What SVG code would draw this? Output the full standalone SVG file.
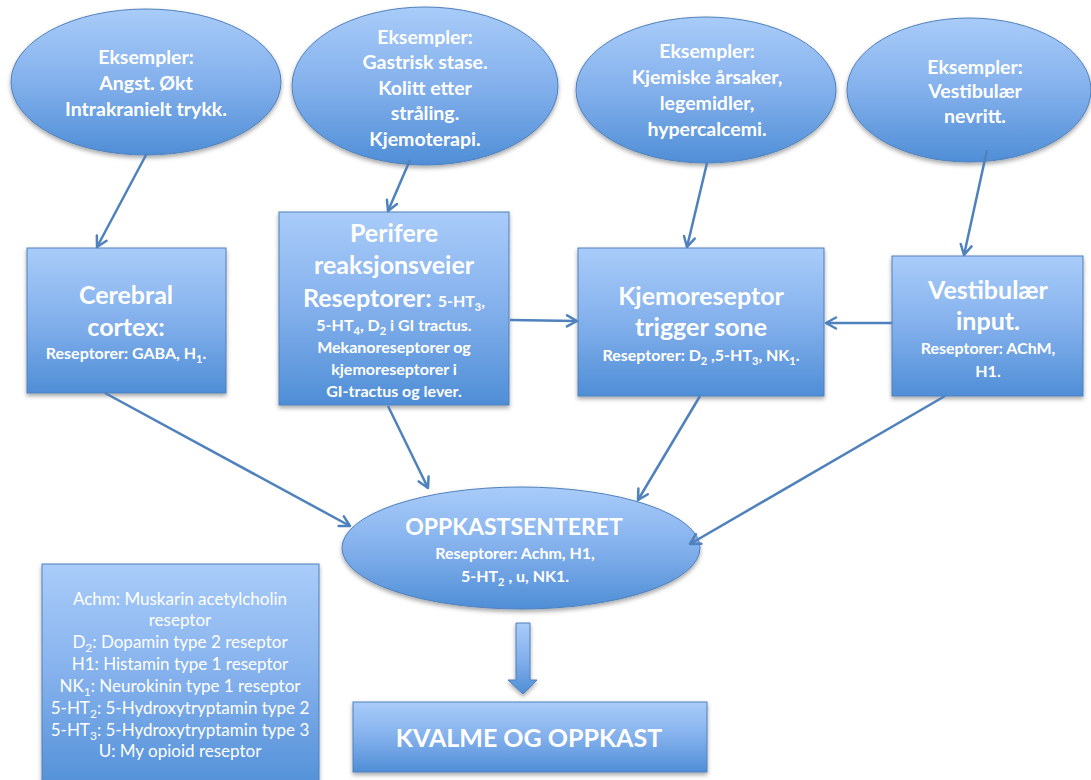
<svg xmlns="http://www.w3.org/2000/svg" width="1091" height="780" viewBox="0 0 1091 780">
<defs>
<linearGradient id="g" x1="0" y1="0" x2="0" y2="1">
<stop offset="0" stop-color="#a9ccf9"/>
<stop offset="0.5" stop-color="#83b0ec"/>
<stop offset="1" stop-color="#4f8ed6"/>
</linearGradient>
<filter id="sh" x="-10%" y="-10%" width="120%" height="130%">
<feDropShadow dx="0" dy="2.5" stdDeviation="2" flood-color="#000" flood-opacity="0.35"/>
</filter>
<marker id="ah" viewBox="0 0 14 14" refX="12" refY="7" markerWidth="14" markerHeight="14" orient="auto" markerUnits="userSpaceOnUse">
<path d="M2,1.5 L12,7 L2,12.5" fill="none" stroke="#4f81bd" stroke-width="2.5" stroke-linecap="round" stroke-linejoin="round"/>
</marker>
</defs>
<style>
.sh{fill:url(#g);stroke:#4f81bd;stroke-width:1;filter:url(#sh)}
.t{font-family:Lato,"Liberation Sans",sans-serif;font-weight:bold;fill:#fff;text-anchor:middle}
.e{font-size:19.5px}
.h{font-size:25px}
.s{font-size:16px}
.lg{font-family:Lato,"Liberation Sans",sans-serif;font-size:17px;fill:#fff;text-anchor:middle}
.c{fill:none;stroke:#4f81bd;stroke-width:2.5;marker-end:url(#ah)}
</style>
<rect width="1091" height="780" fill="#fff"/>

<g id="ex1">
<ellipse class="sh" cx="146" cy="82" rx="135" ry="73"/>
<text class="t e" x="146" y="64">Eksempler:</text>
<text class="t e" x="146" y="90">Angst. Økt</text>
<text class="t e" x="146" y="116">Intrakranielt trykk.</text>
</g>

<g id="ex2">
<ellipse class="sh" cx="425" cy="86" rx="133" ry="79"/>
<text class="t e" x="425" y="44">Eksempler:</text>
<text class="t e" x="425" y="69">Gastrisk stase.</text>
<text class="t e" x="425" y="95">Kolitt etter</text>
<text class="t e" x="425" y="120">stråling.</text>
<text class="t e" x="425" y="146">Kjemoterapi.</text>
</g>

<g id="ex3">
<ellipse class="sh" cx="706" cy="90" rx="130" ry="73"/>
<text class="t e" x="707" y="58">Eksempler:</text>
<text class="t e" x="707" y="84">Kjemiske årsaker,</text>
<text class="t e" x="707" y="110">legemidler,</text>
<text class="t e" x="707" y="136">hypercalcemi.</text>
</g>

<g id="ex4">
<ellipse class="sh" cx="969" cy="90" rx="122" ry="72"/>
<text class="t e" x="975" y="74">Eksempler:</text>
<text class="t e" x="975" y="98">Vestibulær</text>
<text class="t e" x="975" y="123">nevritt.</text>
</g>

<g id="cerebral">
<rect class="sh" x="27" y="248" width="199" height="145"/>
<text class="t h" x="126" y="304">Cerebral</text>
<text class="t h" x="126" y="336">cortex:</text>
<text class="t s" x="126" y="359">Reseptorer: GABA, H<tspan font-size="11" dy="4">1</tspan><tspan dy="-4">.</tspan></text>
</g>

<g id="perifere">
<rect class="sh" x="279" y="212" width="230" height="193"/>
<text class="t h" x="394" y="242">Perifere</text>
<text class="t h" x="394" y="274">reaksjonsveier</text>
<text class="t" x="394" y="307"><tspan font-size="25">Reseptorer: </tspan><tspan font-size="16">5-HT</tspan><tspan font-size="11" dy="4">3</tspan><tspan font-size="16" dy="-4">,</tspan></text>
<text class="t s" x="394" y="331">5-HT<tspan font-size="11" dy="4">4</tspan><tspan dy="-4">, D</tspan><tspan font-size="11" dy="4">2</tspan><tspan dy="-4"> i GI tractus.</tspan></text>
<text class="t s" x="394" y="353">Mekanoreseptorer og</text>
<text class="t s" x="394" y="375">kjemoreseptorer i</text>
<text class="t s" x="394" y="397">GI-tractus og lever.</text>
</g>

<g id="kjemo">
<rect class="sh" x="578" y="248" width="246" height="148"/>
<text class="t h" x="701" y="305">Kjemoreseptor</text>
<text class="t h" x="701" y="336">trigger sone</text>
<text class="t s" x="701" y="361">Reseptorer: D<tspan font-size="11" dy="4">2</tspan><tspan dy="-4"> ,5-HT</tspan><tspan font-size="11" dy="4">3</tspan><tspan dy="-4">, NK</tspan><tspan font-size="11" dy="4">1</tspan><tspan dy="-4">.</tspan></text>
</g>

<g id="vestibular">
<rect class="sh" x="892" y="256" width="191" height="140"/>
<text class="t h" x="988" y="299">Vestibulær</text>
<text class="t h" x="988" y="330">input.</text>
<text class="t s" x="988" y="354">Reseptorer: AChM,</text>
<text class="t s" x="988" y="377">H1.</text>
</g>

<g id="senter">
<ellipse class="sh" cx="521" cy="548" rx="179" ry="61"/>
<text class="t" x="514" y="535" font-size="23">OPPKASTSENTERET</text>
<text class="t s" x="515" y="559">Reseptorer: Achm, H1,</text>
<text class="t s" x="515" y="582">5-HT<tspan font-size="11" dy="4">2</tspan><tspan dy="-4"> , u, NK1.</tspan></text>
</g>

<g id="legend">
<rect class="sh" x="42" y="564" width="277" height="230"/>
<text class="lg" x="180" y="605">Achm: Muskarin acetylcholin</text>
<text class="lg" x="180" y="626">reseptor</text>
<text class="lg" x="180" y="648">D<tspan font-size="12" dy="4">2</tspan><tspan dy="-4">: Dopamin type 2 reseptor</tspan></text>
<text class="lg" x="180" y="670">H1: Histamin type 1 reseptor</text>
<text class="lg" x="180" y="692">NK<tspan font-size="12" dy="4">1</tspan><tspan dy="-4">: Neurokinin type 1 reseptor</tspan></text>
<text class="lg" x="180" y="714">5-HT<tspan font-size="12" dy="4">2</tspan><tspan dy="-4">: 5-Hydroxytryptamin type 2</tspan></text>
<text class="lg" x="180" y="736">5-HT<tspan font-size="12" dy="4">3</tspan><tspan dy="-4">: 5-Hydroxytryptamin type 3</tspan></text>
<text class="lg" x="180" y="757">U: My opioid reseptor</text>
</g>

<g id="blockarrow">
<path class="sh" d="M516,623 L530,623 L530,680 L537,680 L523,694 L508,680 L516,680 Z"/>
</g>

<g id="kvalme">
<rect class="sh" x="353" y="702" width="354" height="70"/>
<text class="t" x="529" y="747" font-size="25">KVALME OG OPPKAST</text>
</g>

<g id="connectors">
<line class="c" x1="146" y1="155" x2="97" y2="247"/>
<line class="c" x1="410" y1="160" x2="388" y2="211"/>
<line class="c" x1="707" y1="163" x2="687" y2="247"/>
<line class="c" x1="987" y1="150" x2="964" y2="255"/>
<line class="c" x1="510" y1="320" x2="577" y2="321"/>
<line class="c" x1="892" y1="323" x2="826" y2="323"/>
<line class="c" x1="105" y1="393" x2="350" y2="526"/>
<line class="c" x1="388" y1="406" x2="428" y2="488"/>
<line class="c" x1="700" y1="396" x2="638" y2="500"/>
<line class="c" x1="945" y1="396" x2="690" y2="544"/>
</g>
</svg>
